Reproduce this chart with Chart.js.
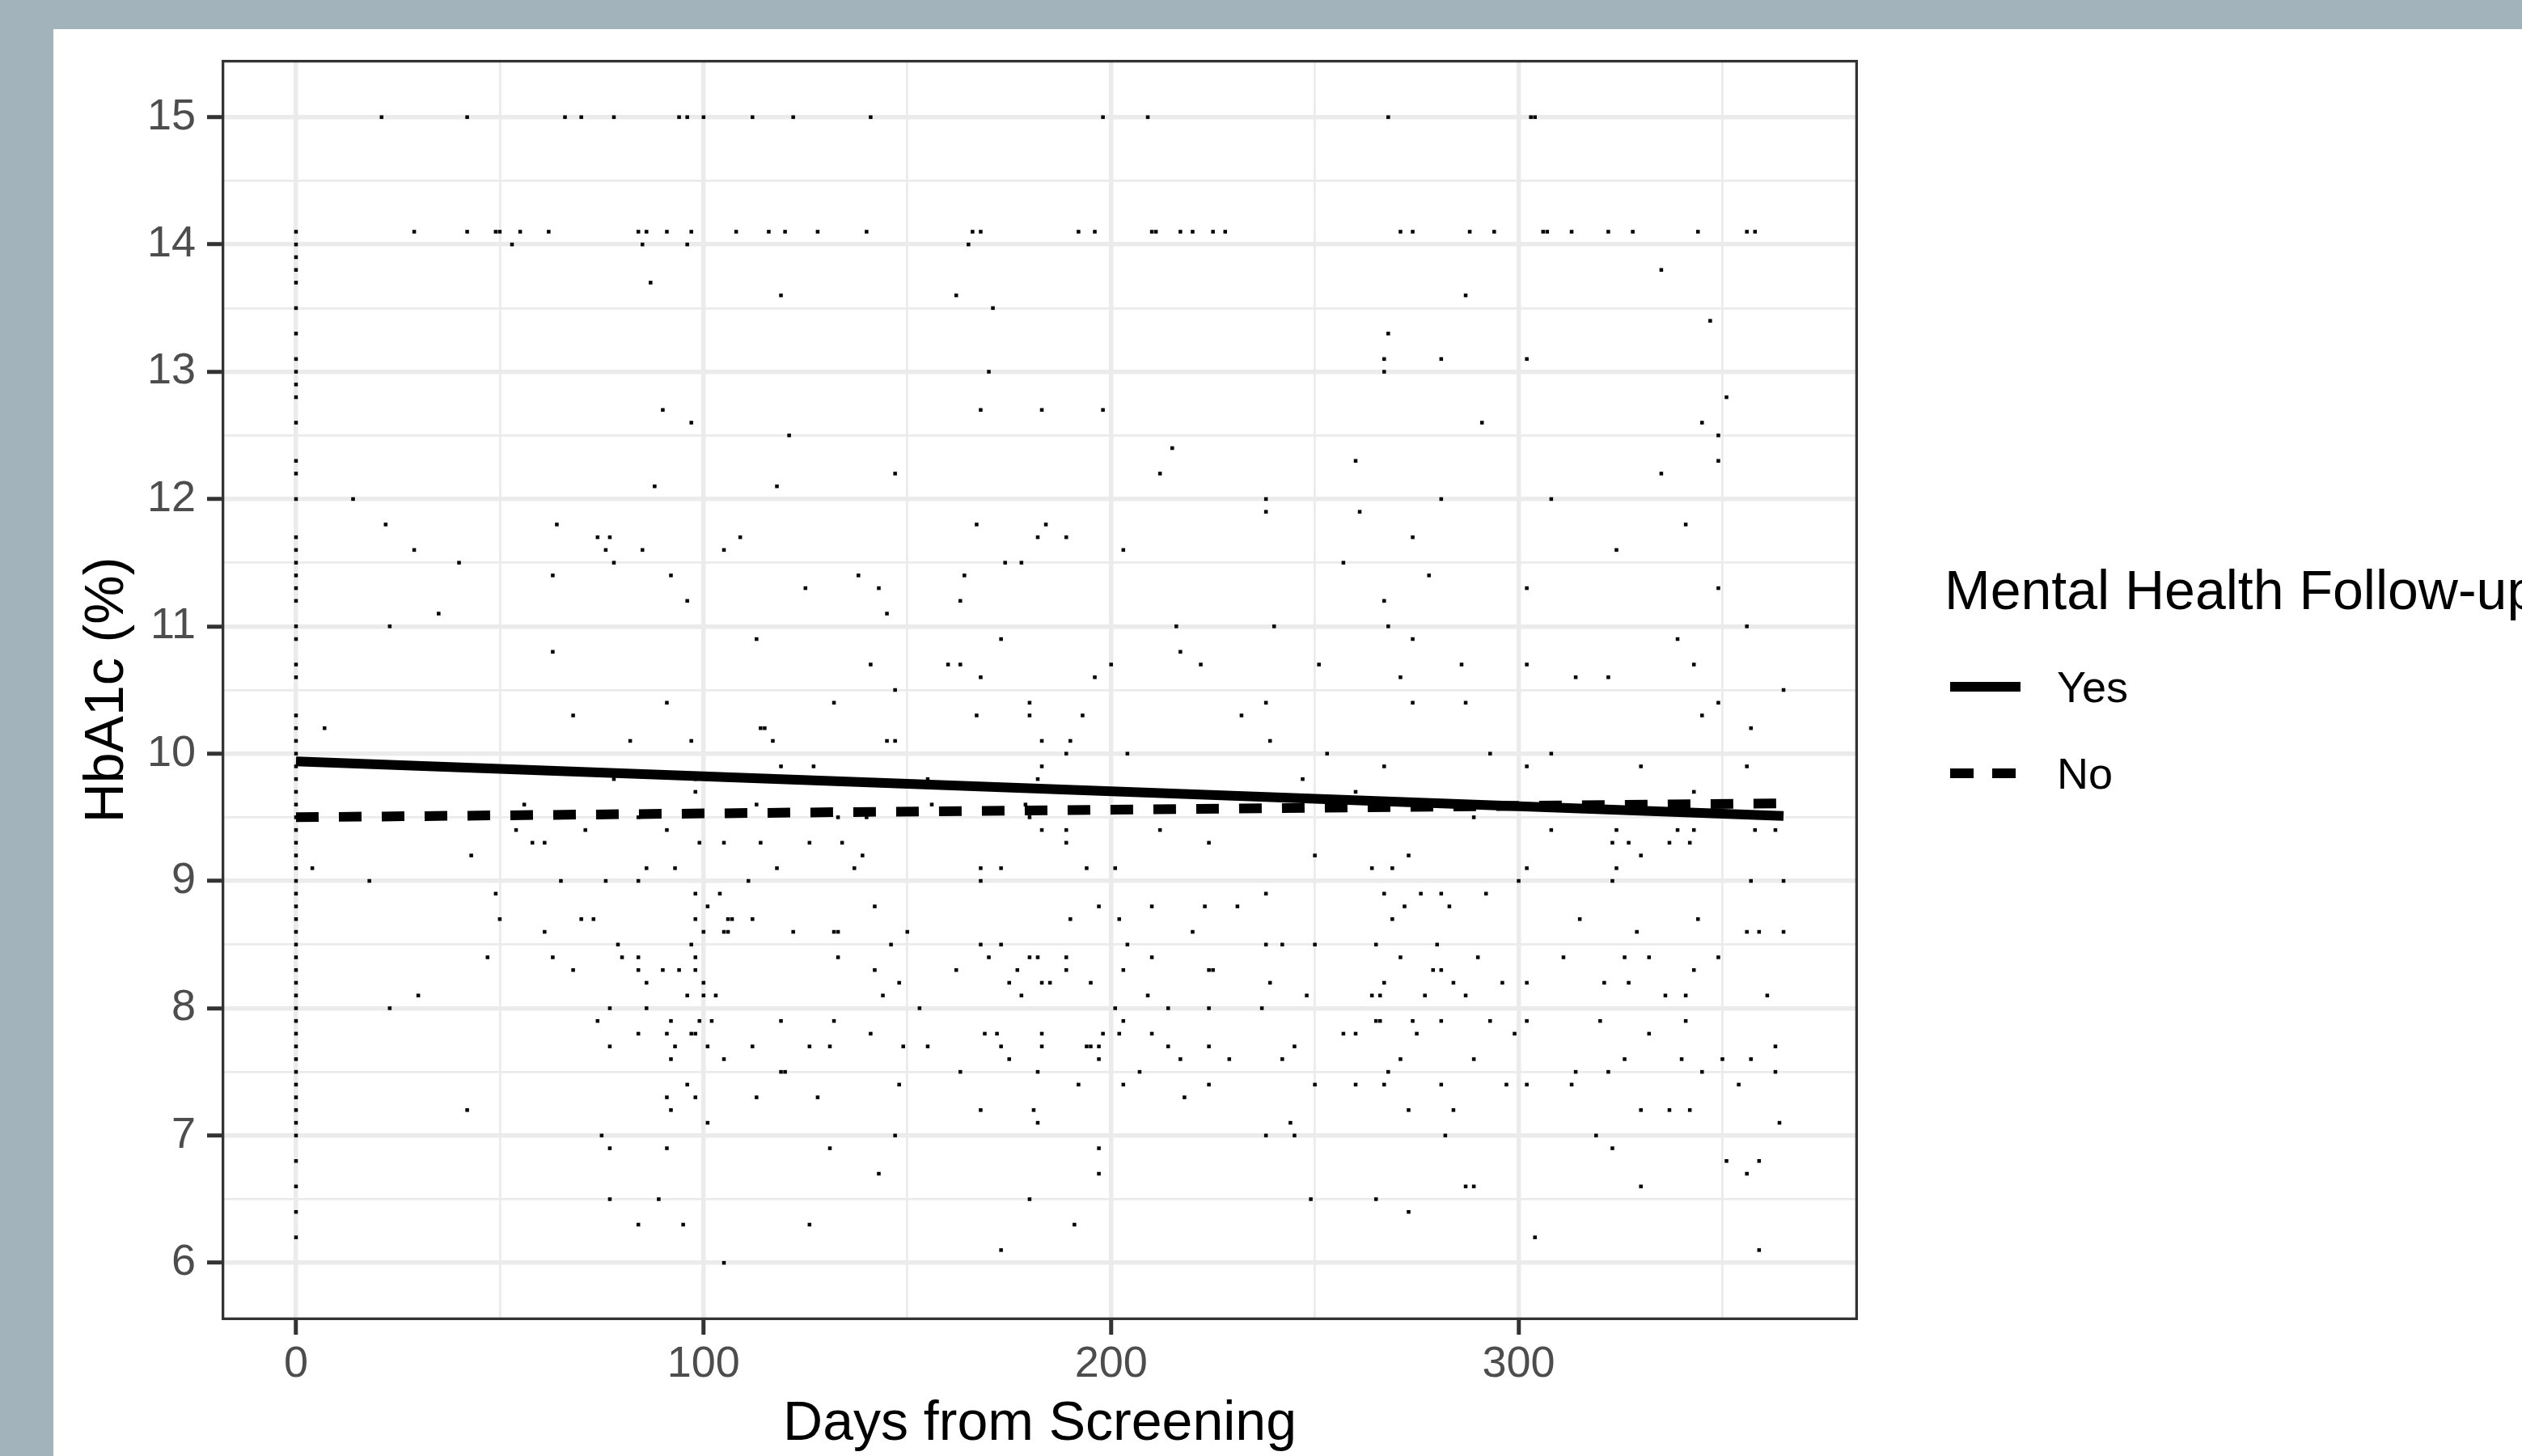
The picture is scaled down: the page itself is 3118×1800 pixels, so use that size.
<!DOCTYPE html>
<html>
<head>
<meta charset="utf-8">
<script src="https://cdn.jsdelivr.net/npm/chart.js@4.4.1/dist/chart.umd.min.js"></script>
<style>
html,body{margin:0;padding:0;width:3118px;height:1800px;overflow:hidden;background:#a3b3bc;}
#panel{position:absolute;left:66px;top:36px;width:3052px;height:1764px;background:#ffffff;overflow:hidden;}
canvas{display:block;}
</style>
</head>
<body>
<div id="panel"><canvas id="c" width="3052" height="1764" style="width:3052px;height:1764px"></canvas></div>
<script>
// ---------- data ----------
const xTitle = 'Days from Screening';
const yTitle = 'HbA1c (%)';
const legendTitle = 'Mental Health Follow-up';
const seriesNames = ['Yes', 'No'];

const xTickValues = [0, 100, 200, 300];
const xTickLabels = ['0', '100', '200', '300'];
const xGridValues = [0, 50, 100, 150, 200, 250, 300, 350];
const yTickValues = [6, 7, 8, 9, 10, 11, 12, 13, 14, 15];
const yTickLabels = ['6', '7', '8', '9', '10', '11', '12', '13', '14', '15'];
const yGridValues = [6, 6.5, 7, 7.5, 8, 8.5, 9, 9.5, 10, 10.5, 11, 11.5, 12, 12.5, 13, 13.5, 14, 14.5, 15];

// HbA1c values recorded on the screening day (day 0)
const screeningDayHbA1c = [14.1, 14.0, 13.9, 13.8, 13.7, 13.5, 13.3, 13.1, 13.0, 12.9, 12.8, 12.6, 12.3, 12.2, 12.0,
  11.7, 11.6, 11.5, 11.4, 11.3, 11.2, 11.0, 10.9, 10.7, 10.6, 10.3, 10.2, 10.1, 10.0, 9.9, 9.8, 9.7, 9.6, 9.5,
  9.4, 9.3, 9.2, 9.1, 9.0, 8.9, 8.8, 8.7, 8.6, 8.5, 8.4, 8.3, 8.2, 8.1, 8.0, 7.9, 7.8, 7.7, 7.6, 7.5, 7.4, 7.3,
  7.2, 7.1, 7.0, 6.8, 6.6, 6.4, 6.2];

// Follow-up HbA1c levels and the days on which each level was recorded
const hba1cLevels = [15.0, 14.1, 14.0, 13.8, 13.7, 13.6, 13.5, 13.4, 13.3, 13.1, 13.0, 12.8, 12.7, 12.6, 12.5, 12.4,
  12.3, 12.2, 12.1, 12.0, 11.9, 11.8, 11.7, 11.6, 11.5, 11.4, 11.3, 11.2, 11.1, 11.0, 10.9, 10.8, 10.7, 10.6,
  10.5, 10.4, 10.3, 10.2, 10.1, 10.0, 9.9, 9.8, 9.7, 9.6, 9.5, 9.4, 9.3, 9.2, 9.1, 9.0, 8.9, 8.8, 8.7, 8.6, 8.5,
  8.4, 8.3, 8.2, 8.1, 8.0, 7.9, 7.8, 7.7, 7.6, 7.5, 7.4, 7.3, 7.2, 7.1, 7.0, 6.9, 6.8, 6.7, 6.6, 6.5, 6.4, 6.3,
  6.2, 6.1, 6.0];
const visitDaysByLevel = [
  [21, 42, 66, 70, 78, 94, 96, 100, 112, 122, 141, 198, 209, 268, 303, 304],
  [29, 42, 49, 50, 55, 62, 84, 86, 91, 97, 108, 116, 120, 128, 140, 166, 168, 192, 196, 210, 211, 217, 220, 225, 228, 271, 274, 288, 294, 306, 307, 313, 322, 328, 344, 356, 358],
  [53, 85, 96, 165],
  [335],
  [87],
  [119, 162, 287],
  [171],
  [347],
  [268],
  [267, 281, 302],
  [170, 267],
  [351],
  [90, 168, 183, 198],
  [97, 291, 345],
  [121, 349],
  [215],
  [260, 349],
  [147, 212, 335],
  [88, 118],
  [14, 238, 281, 308],
  [238, 261],
  [22, 64, 167, 184, 341],
  [74, 77, 109, 182, 189, 274],
  [29, 76, 85, 105, 203, 324],
  [40, 78, 174, 178, 257],
  [63, 92, 138, 164, 278],
  [125, 143, 302, 349],
  [96, 163, 267],
  [35, 145],
  [23, 216, 240, 268, 356],
  [113, 173, 274, 339],
  [63, 217],
  [141, 160, 163, 200, 222, 251, 286, 302, 343],
  [168, 196, 271, 314, 322],
  [147, 365],
  [91, 132, 180, 238, 274, 287, 349],
  [68, 167, 180, 193, 232, 345],
  [7, 114, 115, 357],
  [82, 97, 117, 145, 147, 183, 190, 239],
  [189, 204, 253, 293, 308],
  [119, 127, 183, 267, 302, 330, 356],
  [78, 98, 155, 182, 247],
  [98, 260, 343],
  [56, 113, 156, 179],
  [84, 133, 140, 180, 289],
  [54, 71, 91, 183, 189, 212, 308, 324, 339, 343, 358, 363],
  [58, 61, 99, 105, 114, 126, 134, 189, 224, 323, 327, 337, 342],
  [43, 139, 250, 273, 330],
  [4, 86, 93, 118, 137, 168, 173, 194, 201, 264, 269, 302, 324],
  [18, 65, 76, 84, 111, 168, 300, 323, 357, 365],
  [49, 98, 104, 238, 267, 276, 281, 292],
  [101, 142, 197, 210, 223, 231, 272, 283],
  [50, 70, 73, 98, 106, 107, 112, 190, 202, 269, 315, 344],
  [61, 100, 105, 106, 122, 132, 133, 150, 220, 329, 356, 359, 365],
  [79, 97, 146, 168, 173, 204, 238, 242, 250, 265, 280],
  [47, 63, 80, 84, 98, 133, 170, 180, 182, 189, 210, 271, 290, 311, 326, 332, 349],
  [68, 84, 90, 94, 98, 142, 162, 177, 189, 203, 224, 225, 279, 281, 343],
  [86, 100, 148, 175, 183, 185, 195, 239, 267, 284, 296, 302, 321, 327],
  [30, 96, 100, 103, 144, 178, 209, 248, 264, 266, 277, 287, 336, 341, 361],
  [23, 77, 86, 153, 201, 214, 224, 237],
  [74, 92, 99, 102, 119, 132, 203, 265, 266, 274, 281, 293, 302, 320, 341],
  [84, 91, 97, 98, 141, 169, 172, 183, 198, 202, 210, 257, 260, 275, 299, 332],
  [77, 93, 101, 112, 126, 131, 149, 155, 173, 183, 194, 195, 197, 214, 224, 245, 363],
  [92, 105, 175, 197, 217, 229, 242, 271, 289, 326, 340, 350, 357],
  [119, 120, 163, 182, 207, 268, 314, 322, 345, 363],
  [96, 148, 192, 203, 224, 250, 260, 267, 281, 297, 302, 313, 354],
  [91, 98, 113, 128, 218],
  [42, 92, 168, 181, 273, 284, 330, 337, 342],
  [101, 182, 244, 364],
  [75, 147, 238, 245, 282, 319],
  [77, 91, 131, 197, 323],
  [351, 359],
  [143, 197, 356],
  [287, 289, 330],
  [77, 89, 180, 249, 265],
  [273],
  [84, 95, 126, 191],
  [304],
  [173, 359],
  [105]
];

// Fitted trend lines (linear fits), by follow-up group
const fitDays = [0, 365];
const fitYes = [9.94, 9.51];
const fitNo = [9.50, 9.61];

// ---------- build ----------
const FONT = '"Liberation Sans", Arial, Helvetica, sans-serif';
Chart.defaults.font.family = FONT;

const scatterPoints = screeningDayHbA1c.map(v => ({x: 0, y: v}));
hba1cLevels.forEach((lvl, i) => {
  visitDaysByLevel[i].forEach(d => scatterPoints.push({x: d, y: lvl}));
});

const isMajorX = v => xTickValues.indexOf(v) >= 0;
const isMajorY = v => yTickValues.indexOf(v) >= 0;

const panelPlugin = {
  id: 'panelDecor',
  afterDatasetsDraw(chart) {
    const {ctx, chartArea: a} = chart;
    ctx.save();
    ctx.strokeStyle = '#333333';
    ctx.lineWidth = 3.3;
    ctx.setLineDash([]);
    ctx.strokeRect(a.left + 1.65, a.top + 1.65, a.right - a.left - 3.3, a.bottom - a.top - 3.3);
    ctx.restore();
  },
  afterDraw(chart) {
    const ctx = chart.ctx;
    ctx.save();
    ctx.fillStyle = '#000000';
    ctx.textAlign = 'left';
    ctx.textBaseline = 'alphabetic';
    ctx.font = '68px ' + FONT;
    ctx.fillText(legendTitle, 2338, 717);
    ctx.strokeStyle = '#000000';
    ctx.lineWidth = 12;
    ctx.lineCap = 'butt';
    ctx.setLineDash([]);
    ctx.beginPath(); ctx.moveTo(2345, 813); ctx.lineTo(2432, 813); ctx.stroke();
    ctx.setLineDash([29, 23]);
    ctx.beginPath(); ctx.moveTo(2345, 920); ctx.lineTo(2427, 920); ctx.stroke();
    ctx.setLineDash([]);
    ctx.font = '54px ' + FONT;
    ctx.fillText(seriesNames[0], 2477, 832);
    ctx.fillText(seriesNames[1], 2477, 939);
    ctx.restore();
  }
};

new Chart(document.getElementById('c'), {
  type: 'scatter',
  data: {
    datasets: [
      {
        label: seriesNames[0],
        data: fitDays.map((d, i) => ({x: d, y: fitYes[i]})),
        showLine: true, borderColor: '#000000', borderWidth: 12, borderCapStyle: 'butt',
        pointRadius: 0, pointHoverRadius: 0, order: 0
      },
      {
        label: seriesNames[1],
        data: fitDays.map((d, i) => ({x: d, y: fitNo[i]})),
        showLine: true, borderColor: '#000000', borderWidth: 12, borderCapStyle: 'butt',
        borderDash: [28, 25], pointRadius: 0, pointHoverRadius: 0, order: 0
      },
      {
        label: 'HbA1c',
        data: scatterPoints,
        showLine: false, pointStyle: 'rect', pointRadius: 3.2, pointHoverRadius: 3.2,
        backgroundColor: '#000000', borderWidth: 0, order: 1
      }
    ]
  },
  options: {
    responsive: false,
    devicePixelRatio: 1,
    animation: false,
    events: [],
    layout: {padding: {left: 0, top: 38, right: 821, bottom: 0}},
    plugins: {legend: {display: false}, tooltip: {enabled: false}},
    scales: {
      x: {
        type: 'linear', position: 'bottom', min: -18.25, max: 383.25,
        afterBuildTicks: s => { s.ticks = xGridValues.map(v => ({value: v})); },
        afterFit: s => { s.height = 168; s.paddingLeft = 0; s.paddingRight = 0; },
        border: {display: false},
        grid: {
          color: '#ebebeb',
          lineWidth: c => (c.tick && isMajorX(c.tick.value)) ? 5.5 : 2.75,
          drawTicks: true, tickLength: 18, tickWidth: 5,
          tickColor: c => (c.tick && isMajorX(c.tick.value)) ? '#333333' : 'rgba(0,0,0,0)'
        },
        ticks: {
          autoSkip: false, maxRotation: 0, minRotation: 0, padding: 5, color: '#4d4d4d',
          font: {size: 54, family: FONT},
          callback: v => { const i = xTickValues.indexOf(v); return i < 0 ? '' : xTickLabels[i]; }
        },
        title: {display: true, text: xTitle, color: '#000000', font: {size: 68, family: FONT}, padding: {top: 0, bottom: -2}}
      },
      y: {
        type: 'linear', position: 'left', min: 5.55, max: 15.45,
        afterBuildTicks: s => { s.ticks = yGridValues.map(v => ({value: v})); },
        afterFit: s => { s.width = 208; s.paddingTop = 0; s.paddingBottom = 0; },
        border: {display: false},
        grid: {
          color: '#ebebeb',
          lineWidth: c => (c.tick && isMajorY(c.tick.value)) ? 5.5 : 2.75,
          drawTicks: true, tickLength: 18, tickWidth: 5,
          tickColor: c => (c.tick && isMajorY(c.tick.value)) ? '#333333' : 'rgba(0,0,0,0)'
        },
        ticks: {
          autoSkip: false, padding: 14, color: '#4d4d4d',
          font: {size: 54, family: FONT},
          callback: v => { const i = yTickValues.indexOf(v); return i < 0 ? '' : yTickLabels[i]; }
        },
        title: {display: true, text: yTitle, color: '#000000', font: {size: 68, family: FONT}, padding: {top: 26, bottom: 0}}
      }
    }
  },
  plugins: [panelPlugin]
});
</script>
</body>
</html>
